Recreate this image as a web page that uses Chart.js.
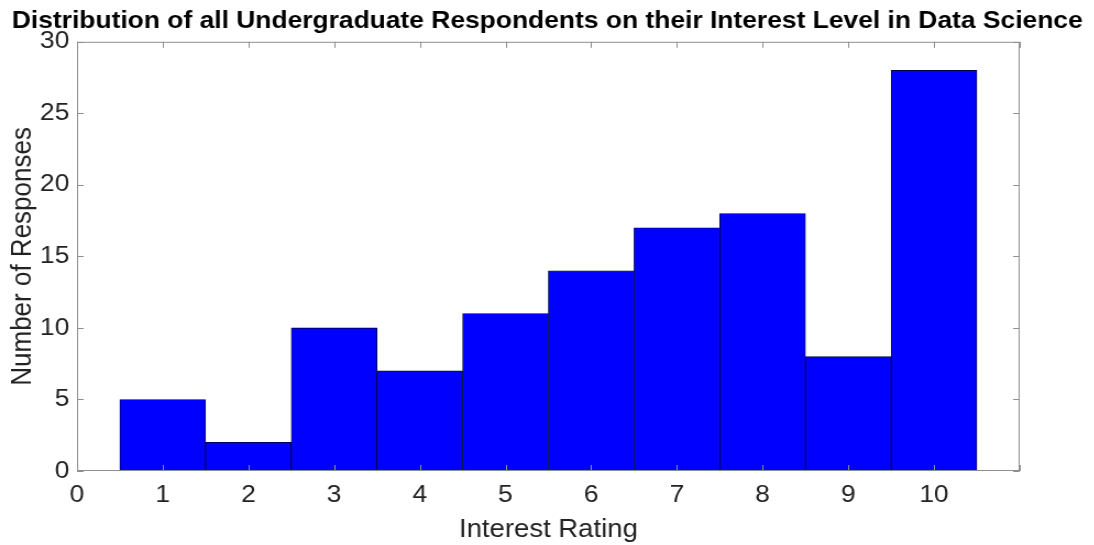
<!DOCTYPE html>
<html>
<head>
<meta charset="utf-8">
<script src="https://cdn.jsdelivr.net/npm/chart.js@4"></script>
<style>
  html, body { margin: 0; padding: 0; background: #fff; overflow: hidden; }
  /* the reference is a little wider than tall, so stretch the whole plot */
  #wrap { width: 995px; height: 545px; transform: scaleX(1.1); transform-origin: 0 0; }
</style>
</head>
<body>
<div id="wrap"><canvas id="myChart"></canvas></div>
<script>
var ratings = [1, 2, 3, 4, 5, 6, 7, 8, 9, 10];
var responses = [5, 2, 10, 7, 11, 14, 17, 18, 8, 28];
var yTicks = [0, 5, 10, 15, 20, 25, 30];

// matlab style box with inward ticks
var boxTicks = {
  id: 'boxTicks',
  afterDraw: function(chart) {
    var ctx = chart.ctx, a = chart.chartArea;
    var x = chart.scales.x, y = chart.scales.y;
    ctx.save();
    ctx.strokeStyle = '#8f8f8f';
    ctx.lineWidth = 1;
    ctx.strokeRect(a.left + 0.5, a.top + 0.5, a.right - a.left - 1, a.bottom - a.top - 1);
    ctx.beginPath();
    x.ticks.forEach(function(t) {
      var px = Math.round(x.getPixelForValue(t.value)) + 0.5;
      ctx.moveTo(px, a.bottom); ctx.lineTo(px, a.bottom - 6);
      ctx.moveTo(px, a.top); ctx.lineTo(px, a.top + 6);
    });
    y.ticks.forEach(function(t) {
      var py = Math.round(y.getPixelForValue(t.value)) + 0.5;
      ctx.moveTo(a.left, py); ctx.lineTo(a.left + 6, py);
      ctx.moveTo(a.right, py); ctx.lineTo(a.right - 6, py);
    });
    ctx.stroke();
    ctx.restore();
  }
};

var data = ratings.map(function(r, i) { return { x: r, y: responses[i] }; });

new Chart(document.getElementById('myChart'), {
  type: 'bar',
  data: {
    datasets: [{
      label: 'Responses',
      data: data,
      backgroundColor: '#0000ff',
      borderColor: '#000033',
      borderWidth: 0.8,
      borderSkipped: false,
      barPercentage: 1,
      categoryPercentage: 1
    }]
  },
  options: {
    responsive: true,
    maintainAspectRatio: false,
    animation: false,
    layout: { padding: 0 },
    plugins: {
      legend: { display: false },
      tooltip: { enabled: false },
      title: {
        display: true,
        text: 'Distribution of all Undergraduate Respondents on their Interest Level in Data Science',
        color: '#000',
        font: { family: 'Liberation Sans', size: 24, weight: 'bold' },
        padding: { top: 7, bottom: 6 }
      }
    },
    scales: {
      x: {
        type: 'linear',
        min: 0,
        max: 11,
        offset: false,
        grid: { display: false, drawTicks: false },
        border: { display: false },
        afterFit: function(s) { s.height = 74; },
        ticks: {
          stepSize: 1,
          padding: 10,
          color: '#222',
          font: { family: 'Liberation Sans', size: 24 },
          callback: function(v) { return v <= 10 ? v : ''; }
        },
        title: {
          display: true,
          text: 'Interest Rating',
          color: '#222',
          font: { family: 'Liberation Sans', size: 25 },
          padding: { top: 1, bottom: 0 }
        }
      },
      y: {
        min: 0,
        max: 30,
        grid: { display: false, drawTicks: false },
        border: { display: false },
        afterFit: function(s) { s.width = 70; },
        afterBuildTicks: function(s) { s.ticks = yTicks.map(function(v) { return { value: v }; }); },
        ticks: {
          padding: 7,
          color: '#222',
          font: { family: 'Liberation Sans', size: 24 }
        },
        title: {
          display: true,
          text: 'Number of Responses',
          color: '#222',
          font: { family: 'Liberation Sans', size: 26 },
          padding: { top: 5, bottom: 0 }
        }
      },
      // empty right side, keeps the title centred over the whole figure
      y2: {
        position: 'right',
        display: true,
        grid: { display: false, drawTicks: false },
        border: { display: false },
        ticks: { display: false },
        afterFit: function(s) { s.width = 68; }
      }
    }
  },
  plugins: [boxTicks]
});
</script>
</body>
</html>
